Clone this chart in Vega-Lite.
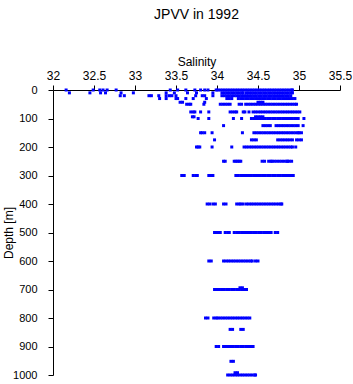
{
"$schema": "https://vega.github.io/schema/vega-lite/v6.json",
"autosize": "none",
"width": 287,
"height": 285,
"padding": {"left": 53, "top": 90, "right": 13, "bottom": 9},
"background": "white",
"config": {"view": {"stroke": null}, "font": "Liberation Sans"},
"title": {"text": "JPVV in 1992", "fontSize": 14, "fontWeight": "normal", "font": "Liberation Sans", "color": "black", "anchor": "middle", "baseline": "alphabetic", "offset": 22},
"data": {"values": [
{"d":0,"s":32.16},{"d":0,"s":32.49},{"d":0,"s":32.57},{"d":0,"s":32.61},{"d":0,"s":32.66},{"d":0,"s":32.77},{"d":0,"s":33.43},{"d":0,"s":33.52},{"d":0,"s":33.62},{"d":0,"s":33.73},{"d":0,"s":33.80},{"d":0,"s":33.85},{"d":0,"s":33.89},{"d":0,"s":33.99},
{"d":0,"s":34.01},{"d":0,"s":34.04},{"d":0,"s":34.07},{"d":0,"s":34.10},{"d":0,"s":34.13},{"d":0,"s":34.16},{"d":0,"s":34.19},{"d":0,"s":34.22},{"d":0,"s":34.25},{"d":0,"s":34.28},{"d":0,"s":34.31},{"d":0,"s":34.34},{"d":0,"s":34.37},{"d":0,"s":34.40},{"d":0,"s":34.43},{"d":0,"s":34.46},{"d":0,"s":34.49},{"d":0,"s":34.52},{"d":0,"s":34.55},{"d":0,"s":34.58},{"d":0,"s":34.61},{"d":0,"s":34.64},{"d":0,"s":34.67},{"d":0,"s":34.70},{"d":0,"s":34.73},{"d":0,"s":34.76},{"d":0,"s":34.79},{"d":0,"s":34.82},{"d":0,"s":34.85},{"d":0,"s":34.88},{"d":0,"s":34.91},{"d":0,"s":34.92},
{"d":10,"s":32.20},{"d":10,"s":32.45},{"d":10,"s":32.58},{"d":10,"s":32.64},{"d":10,"s":32.83},{"d":10,"s":32.98},{"d":10,"s":33.38},{"d":10,"s":33.48},{"d":10,"s":33.64},{"d":10,"s":33.75},{"d":10,"s":33.95},
{"d":10,"s":34.06},{"d":10,"s":34.09},{"d":10,"s":34.12},{"d":10,"s":34.15},{"d":10,"s":34.18},{"d":10,"s":34.21},{"d":10,"s":34.24},{"d":10,"s":34.27},{"d":10,"s":34.30},{"d":10,"s":34.32},{"d":10,"s":34.36},{"d":10,"s":34.39},{"d":10,"s":34.42},{"d":10,"s":34.45},{"d":10,"s":34.48},{"d":10,"s":34.51},{"d":10,"s":34.54},{"d":10,"s":34.57},{"d":10,"s":34.60},{"d":10,"s":34.63},{"d":10,"s":34.66},{"d":10,"s":34.69},{"d":10,"s":34.72},{"d":10,"s":34.75},{"d":10,"s":34.78},{"d":10,"s":34.81},{"d":10,"s":34.84},{"d":10,"s":34.87},{"d":10,"s":34.90},{"d":10,"s":34.92},
{"d":20,"s":32.82},{"d":20,"s":32.87},{"d":20,"s":33.17},{"d":20,"s":33.20},{"d":20,"s":33.29},{"d":20,"s":33.38},{"d":20,"s":33.42},{"d":20,"s":33.45},{"d":20,"s":33.50},{"d":20,"s":33.74},{"d":20,"s":33.82},{"d":20,"s":33.85},{"d":20,"s":33.95},
{"d":20,"s":34.06},{"d":20,"s":34.09},{"d":20,"s":34.12},{"d":20,"s":34.15},{"d":20,"s":34.18},{"d":20,"s":34.21},{"d":20,"s":34.24},{"d":20,"s":34.27},{"d":20,"s":34.30},{"d":20,"s":34.33},{"d":20,"s":34.36},{"d":20,"s":34.39},{"d":20,"s":34.42},{"d":20,"s":34.45},{"d":20,"s":34.48},{"d":20,"s":34.51},{"d":20,"s":34.54},{"d":20,"s":34.57},{"d":20,"s":34.60},{"d":20,"s":34.63},{"d":20,"s":34.66},{"d":20,"s":34.69},{"d":20,"s":34.72},{"d":20,"s":34.75},{"d":20,"s":34.78},{"d":20,"s":34.81},{"d":20,"s":34.84},{"d":20,"s":34.87},{"d":20,"s":34.90},
{"d":30,"s":33.30},{"d":30,"s":33.38},{"d":30,"s":33.50},{"d":30,"s":33.52},{"d":30,"s":33.62},{"d":30,"s":33.71},{"d":30,"s":33.87},
{"d":30,"s":34.12},{"d":30,"s":34.15},{"d":30,"s":34.18},{"d":30,"s":34.26},{"d":30,"s":34.29},{"d":30,"s":34.32},{"d":30,"s":34.35},{"d":30,"s":34.38},{"d":30,"s":34.41},{"d":30,"s":34.44},{"d":30,"s":34.47},{"d":30,"s":34.50},{"d":30,"s":34.53},{"d":30,"s":34.56},{"d":30,"s":34.59},{"d":30,"s":34.62},{"d":30,"s":34.65},{"d":30,"s":34.68},{"d":30,"s":34.71},{"d":30,"s":34.74},{"d":30,"s":34.77},{"d":30,"s":34.80},{"d":30,"s":34.83},{"d":30,"s":34.86},{"d":30,"s":34.89},{"d":30,"s":34.92},{"d":30,"s":34.95},
{"d":43,"s":33.55},{"d":43,"s":33.58},{"d":43,"s":33.85},{"d":43,"s":34.50},{"d":43,"s":34.53},{"d":43,"s":34.56},
{"d":50,"s":33.63},{"d":50,"s":33.66},{"d":50,"s":33.68},{"d":50,"s":33.84},{"d":50,"s":34.04},{"d":50,"s":34.07},{"d":50,"s":34.10},{"d":50,"s":34.13},{"d":50,"s":34.16},{"d":50,"s":34.27},{"d":50,"s":34.30},
{"d":50,"s":34.35},{"d":50,"s":34.38},{"d":50,"s":34.41},{"d":50,"s":34.44},{"d":50,"s":34.47},{"d":50,"s":34.50},{"d":50,"s":34.53},{"d":50,"s":34.56},{"d":50,"s":34.59},{"d":50,"s":34.62},{"d":50,"s":34.65},{"d":50,"s":34.68},{"d":50,"s":34.71},{"d":50,"s":34.74},{"d":50,"s":34.77},{"d":50,"s":34.80},{"d":50,"s":34.83},{"d":50,"s":34.86},{"d":50,"s":34.89},{"d":50,"s":34.92},{"d":50,"s":34.95},{"d":50,"s":34.97},
{"d":77,"s":33.68},{"d":77,"s":33.71},{"d":77,"s":33.73},{"d":77,"s":33.80},{"d":77,"s":33.90},{"d":77,"s":34.16},{"d":77,"s":34.19},{"d":77,"s":34.22},{"d":77,"s":34.24},{"d":77,"s":34.32},{"d":77,"s":34.34},{"d":77,"s":34.39},
{"d":77,"s":34.44},{"d":77,"s":34.47},{"d":77,"s":34.50},{"d":77,"s":34.53},{"d":77,"s":34.56},{"d":77,"s":34.59},{"d":77,"s":34.62},{"d":77,"s":34.65},{"d":77,"s":34.68},{"d":77,"s":34.71},{"d":77,"s":34.74},{"d":77,"s":34.77},{"d":77,"s":34.80},{"d":77,"s":34.83},{"d":77,"s":34.86},{"d":77,"s":34.89},{"d":77,"s":34.92},{"d":77,"s":34.95},{"d":77,"s":34.98},{"d":77,"s":35.01},
{"d":94,"s":33.70},{"d":94,"s":33.72},{"d":94,"s":34.47},{"d":94,"s":34.50},{"d":94,"s":34.53},{"d":94,"s":34.56},
{"d":100,"s":33.77},{"d":100,"s":33.90},{"d":100,"s":34.20},{"d":100,"s":34.30},{"d":100,"s":34.42},{"d":100,"s":34.45},{"d":100,"s":34.48},
{"d":100,"s":34.50},{"d":100,"s":34.53},{"d":100,"s":34.56},{"d":100,"s":34.59},{"d":100,"s":34.62},{"d":100,"s":34.65},{"d":100,"s":34.68},{"d":100,"s":34.71},{"d":100,"s":34.74},{"d":100,"s":34.77},{"d":100,"s":34.80},{"d":100,"s":34.83},{"d":100,"s":34.86},{"d":100,"s":34.89},{"d":100,"s":34.92},{"d":100,"s":34.95},{"d":100,"s":34.98},{"d":100,"s":34.99},{"d":100,"s":35.06},
{"d":125,"s":34.08},{"d":125,"s":34.56},{"d":125,"s":34.59},{"d":125,"s":34.62},{"d":125,"s":34.65},{"d":125,"s":34.72},{"d":125,"s":34.75},{"d":125,"s":34.78},{"d":125,"s":34.81},{"d":125,"s":34.84},{"d":125,"s":34.87},{"d":125,"s":34.90},{"d":125,"s":34.93},{"d":125,"s":34.96},{"d":125,"s":34.99},{"d":125,"s":35.05},
{"d":150,"s":33.80},{"d":150,"s":33.82},{"d":150,"s":33.85},{"d":150,"s":33.94},{"d":150,"s":34.31},{"d":150,"s":34.45},{"d":150,"s":34.48},{"d":150,"s":34.51},
{"d":150,"s":34.54},{"d":150,"s":34.57},{"d":150,"s":34.60},{"d":150,"s":34.63},{"d":150,"s":34.66},{"d":150,"s":34.69},{"d":150,"s":34.72},{"d":150,"s":34.75},{"d":150,"s":34.78},{"d":150,"s":34.81},{"d":150,"s":34.84},{"d":150,"s":34.87},{"d":150,"s":34.90},{"d":150,"s":34.93},{"d":150,"s":34.96},{"d":150,"s":34.99},{"d":150,"s":35.00},{"d":150,"s":35.03},
{"d":175,"s":33.97},{"d":175,"s":34.42},{"d":175,"s":34.45},{"d":175,"s":34.48},{"d":175,"s":34.74},{"d":175,"s":34.77},{"d":175,"s":34.80},{"d":175,"s":34.83},{"d":175,"s":34.86},{"d":175,"s":34.89},{"d":175,"s":34.92},{"d":175,"s":34.97},{"d":175,"s":35.00},{"d":175,"s":35.03},
{"d":200,"s":33.75},{"d":200,"s":33.77},{"d":200,"s":33.79},{"d":200,"s":33.94},{"d":200,"s":34.18},{"d":200,"s":34.33},{"d":200,"s":34.36},{"d":200,"s":34.39},{"d":200,"s":34.42},
{"d":200,"s":34.45},{"d":200,"s":34.48},{"d":200,"s":34.51},{"d":200,"s":34.54},{"d":200,"s":34.57},{"d":200,"s":34.60},{"d":200,"s":34.63},{"d":200,"s":34.66},{"d":200,"s":34.69},{"d":200,"s":34.72},{"d":200,"s":34.75},{"d":200,"s":34.78},{"d":200,"s":34.81},{"d":200,"s":34.84},{"d":200,"s":34.87},{"d":200,"s":34.90},{"d":200,"s":34.92},{"d":200,"s":34.96},
{"d":250,"s":34.08},{"d":250,"s":34.10},{"d":250,"s":34.21},{"d":250,"s":34.23},{"d":250,"s":34.25},{"d":250,"s":34.27},{"d":250,"s":34.29},{"d":250,"s":34.55},{"d":250,"s":34.58},{"d":250,"s":34.63},{"d":250,"s":34.66},
{"d":250,"s":34.67},{"d":250,"s":34.70},{"d":250,"s":34.73},{"d":250,"s":34.76},{"d":250,"s":34.79},{"d":250,"s":34.82},{"d":250,"s":34.85},{"d":250,"s":34.86},{"d":250,"s":34.88},{"d":250,"s":34.91},
{"d":300,"s":33.57},{"d":300,"s":33.60},{"d":300,"s":33.71},{"d":300,"s":33.74},{"d":300,"s":33.76},{"d":300,"s":33.90},{"d":300,"s":33.93},{"d":300,"s":33.95},
{"d":300,"s":34.23},{"d":300,"s":34.26},{"d":300,"s":34.29},{"d":300,"s":34.32},{"d":300,"s":34.34},{"d":300,"s":34.36},{"d":300,"s":34.39},{"d":300,"s":34.42},{"d":300,"s":34.45},
{"d":300,"s":34.47},{"d":300,"s":34.50},{"d":300,"s":34.53},{"d":300,"s":34.56},{"d":300,"s":34.59},{"d":300,"s":34.62},{"d":300,"s":34.65},{"d":300,"s":34.68},{"d":300,"s":34.71},{"d":300,"s":34.74},{"d":300,"s":34.77},{"d":300,"s":34.80},{"d":300,"s":34.83},{"d":300,"s":34.85},{"d":300,"s":34.87},{"d":300,"s":34.89},{"d":300,"s":34.91},{"d":300,"s":34.93},
{"d":400,"s":33.88},{"d":400,"s":33.91},{"d":400,"s":33.95},{"d":400,"s":33.98},{"d":400,"s":34.08},{"d":400,"s":34.11},{"d":400,"s":34.24},{"d":400,"s":34.27},{"d":400,"s":34.29},{"d":400,"s":34.32},
{"d":400,"s":34.36},{"d":400,"s":34.39},{"d":400,"s":34.42},{"d":400,"s":34.45},{"d":400,"s":34.48},{"d":400,"s":34.51},{"d":400,"s":34.54},{"d":400,"s":34.57},{"d":400,"s":34.60},{"d":400,"s":34.63},{"d":400,"s":34.66},{"d":400,"s":34.69},{"d":400,"s":34.72},{"d":400,"s":34.75},{"d":400,"s":34.78},{"d":400,"s":34.79},
{"d":500,"s":33.97},{"d":500,"s":34.00},{"d":500,"s":34.02},{"d":500,"s":34.04},{"d":500,"s":34.10},{"d":500,"s":34.13},{"d":500,"s":34.15},
{"d":500,"s":34.21},{"d":500,"s":34.24},{"d":500,"s":34.27},{"d":500,"s":34.30},{"d":500,"s":34.33},{"d":500,"s":34.36},{"d":500,"s":34.39},{"d":500,"s":34.42},{"d":500,"s":34.45},{"d":500,"s":34.48},{"d":500,"s":34.51},{"d":500,"s":34.54},{"d":500,"s":34.57},{"d":500,"s":34.60},{"d":500,"s":34.61},{"d":500,"s":34.63},{"d":500,"s":34.66},{"d":500,"s":34.71},{"d":500,"s":34.74},
{"d":600,"s":33.90},{"d":600,"s":33.93},{"d":600,"s":34.08},{"d":600,"s":34.11},{"d":600,"s":34.14},{"d":600,"s":34.17},{"d":600,"s":34.20},{"d":600,"s":34.23},{"d":600,"s":34.26},{"d":600,"s":34.29},{"d":600,"s":34.32},{"d":600,"s":34.35},{"d":600,"s":34.38},{"d":600,"s":34.41},{"d":600,"s":34.43},{"d":600,"s":34.47},{"d":600,"s":34.50},
{"d":694,"s":34.28},{"d":694,"s":34.31},
{"d":700,"s":33.97},{"d":700,"s":34.00},{"d":700,"s":34.03},{"d":700,"s":34.06},{"d":700,"s":34.09},{"d":700,"s":34.12},{"d":700,"s":34.15},{"d":700,"s":34.18},{"d":700,"s":34.21},{"d":700,"s":34.24},{"d":700,"s":34.27},{"d":700,"s":34.30},{"d":700,"s":34.33},{"d":700,"s":34.36},
{"d":800,"s":33.86},{"d":800,"s":33.89},{"d":800,"s":33.96},{"d":800,"s":33.99},{"d":800,"s":34.01},{"d":800,"s":34.04},{"d":800,"s":34.07},{"d":800,"s":34.10},{"d":800,"s":34.13},{"d":800,"s":34.16},{"d":800,"s":34.19},{"d":800,"s":34.22},{"d":800,"s":34.25},{"d":800,"s":34.28},{"d":800,"s":34.31},{"d":800,"s":34.34},{"d":800,"s":34.37},{"d":800,"s":34.40},
{"d":840,"s":34.16},{"d":840,"s":34.19},{"d":840,"s":34.29},{"d":840,"s":34.32},
{"d":900,"s":33.99},{"d":900,"s":34.02},{"d":900,"s":34.08},{"d":900,"s":34.11},{"d":900,"s":34.14},{"d":900,"s":34.17},{"d":900,"s":34.20},{"d":900,"s":34.23},{"d":900,"s":34.26},{"d":900,"s":34.29},{"d":900,"s":34.32},{"d":900,"s":34.35},{"d":900,"s":34.38},{"d":900,"s":34.39},{"d":900,"s":34.41},{"d":900,"s":34.44},
{"d":952,"s":34.17},{"d":952,"s":34.20},
{"d":992,"s":34.22},{"d":992,"s":34.25},
{"d":1000,"s":34.13},{"d":1000,"s":34.16},{"d":1000,"s":34.19},{"d":1000,"s":34.22},{"d":1000,"s":34.25},{"d":1000,"s":34.28},{"d":1000,"s":34.31},{"d":1000,"s":34.34},{"d":1000,"s":34.37},{"d":1000,"s":34.40},{"d":1000,"s":34.43},{"d":1000,"s":34.46},{"d":1000,"s":34.47}
]},
"mark": {"type": "point", "shape": "square", "size": 9, "filled": true, "color": "#0000ff", "opacity": 1, "strokeWidth": 0},
"encoding": {
  "x": {"field": "s", "type": "quantitative",
    "scale": {"domain": [32, 35.5], "nice": false, "zero": false},
    "axis": {"orient": "top", "title": "Salinity", "values": [32, 32.5, 33, 33.5, 34, 34.5, 35, 35.5], "grid": false, "tickSize": 5, "tickColor": "black", "domainColor": "black", "labelColor": "black", "titleColor": "black", "labelFontSize": 12, "labelBaseline": "alphabetic", "labelPadding": 6, "labelFlush": false, "labelOverlap": false, "titleFontSize": 12, "titleFontWeight": "normal", "titleBaseline": "alphabetic", "titleY": -25, "titleX": 143.5, "format": "~g"}},
  "y": {"field": "d", "type": "quantitative",
    "scale": {"domain": [0, 1000], "reverse": true, "nice": false, "zero": false},
    "axis": {"orient": "left", "title": "Depth [m]", "format": "d", "values": [0, 100, 200, 300, 400, 500, 600, 700, 800, 900, 1000], "grid": false, "tickSize": 5, "tickColor": "black", "domainColor": "black", "labelColor": "black", "titleColor": "black", "labelFontSize": 11, "labelPadding": 11, "labelFlush": false, "labelOverlap": false, "titleFontSize": 12, "titleFontWeight": "normal", "titleX": -44.5, "titleY": 142.5, "titleAngle": 270, "titleAlign": "center", "titleBaseline": "middle"}}
}
}
